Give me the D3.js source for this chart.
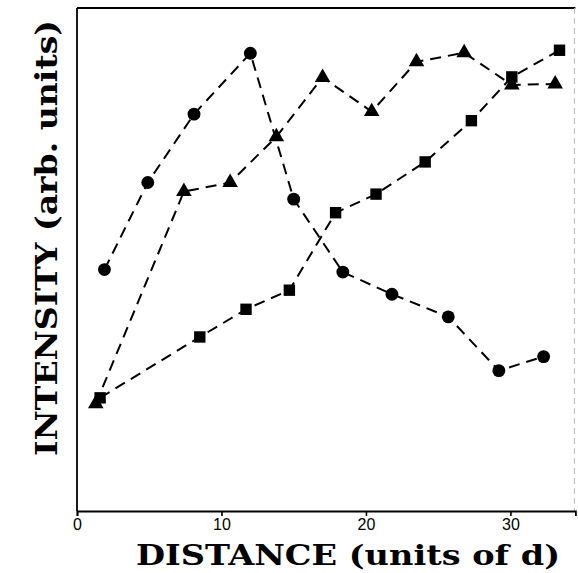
<!DOCTYPE html>
<html>
<head>
<meta charset="utf-8">
<script src="https://cdn.jsdelivr.net/npm/d3@7"></script>
<style>
  body { margin: 0; background: #fff; }
  svg { display: block; }
</style>
</head>
<body>
<div id="chart"></div>
<script>
'use strict';

// distance (units of d) and intensity (arb. units, 0 = bottom of frame, 100 = top)
const circleX = [1.9, 4.9, 8.1, 12.0, 15.0, 18.4, 21.8, 25.7, 29.2, 32.3];
const circleY = [48.0, 65.3, 78.9, 91.0, 62.0, 47.5, 43.1, 38.6, 27.9, 30.7];

const triangleX = [1.3, 7.4, 10.6, 13.8, 17.0, 20.4, 23.5, 26.8, 30.1, 33.1];
const triangleY = [21.3, 63.5, 65.3, 74.4, 86.2, 79.4, 89.3, 91.1, 84.7, 84.9];

const squareX = [1.6, 8.5, 11.7, 14.7, 17.9, 20.7, 24.1, 27.3, 30.1, 33.4];
const squareY = [22.5, 34.6, 40.1, 43.9, 59.3, 63.0, 69.4, 77.6, 86.3, 91.6];

const xTicks = [0, 10, 20, 30];

const W = 578, H = 573;
const frame = { left: 77, right: 575.4, top: 8, bottom: 511 };

let svg = d3.select("#chart").append("svg")
    .attr("width", W)
    .attr("height", H);

let x = d3.scaleLinear()
    .domain([0, 34.5])
    .range([frame.left, frame.right]);

let y = d3.scaleLinear()
    .domain([0, 100])
    .range([frame.bottom, frame.top]);

// frame
svg.append("line")
    .attr("x1", frame.left).attr("x2", frame.right).attr("y1", frame.top).attr("y2", frame.top)
    .attr("stroke", "#000").attr("stroke-width", 2.2);
svg.append("line")
    .attr("x1", frame.left).attr("x2", frame.left).attr("y1", frame.top).attr("y2", frame.bottom)
    .attr("stroke", "#000").attr("stroke-width", 1.8);
svg.append("line")
    .attr("x1", frame.right - 1).attr("x2", frame.right - 1).attr("y1", frame.top).attr("y2", frame.bottom)
    .attr("stroke", "#bbb").attr("stroke-width", 1).attr("stroke-dasharray", "6,4");

let xAxis = d3.axisBottom(x)
    .tickValues(xTicks)
    .tickSize(5)
    .tickPadding(3)
    .tickFormat(d3.format("d"));

let gx = svg.append("g")
    .attr("transform", "translate(0," + frame.bottom + ")")
    .call(xAxis);
gx.select(".domain")
    .attr("stroke-width", 1.8);
gx.selectAll(".tick line")
    .attr("stroke-width", 1.6);
gx.selectAll(".tick text")
    .style("font-family", "'Liberation Sans', Arial, sans-serif")
    .style("font-size", "16px")
    .attr("fill", "#000");

// axis titles
svg.append("text")
    .attr("x", 348)
    .attr("y", 565)
    .attr("text-anchor", "middle")
    .attr("textLength", 424)
    .attr("lengthAdjust", "spacingAndGlyphs")
    .style("font-family", "'DejaVu Serif', serif")
    .style("font-weight", "bold")
    .style("font-size", "28px")
    .text("DISTANCE (units of d)");

svg.append("text")
    .attr("transform", "translate(57,238) rotate(-90)")
    .attr("text-anchor", "middle")
    .attr("textLength", 436)
    .attr("lengthAdjust", "spacingAndGlyphs")
    .style("font-family", "'DejaVu Serif', serif")
    .style("font-weight", "bold")
    .style("font-size", "29px")
    .text("INTENSITY (arb. units)");

let series = [
    { xs: circleX, ys: circleY, symbol: d3.symbolCircle, size: 130 },
    { xs: triangleX, ys: triangleY, symbol: d3.symbolTriangle, size: 105 },
    { xs: squareX, ys: squareY, symbol: d3.symbolSquare, size: 130 }
];

let line = d3.line()
    .x(d => x(d[0]))
    .y(d => y(d[1]));

series.forEach(s => {
    let pts = s.xs.map((v, i) => [v, s.ys[i]]);

    svg.append("path")
        .datum(pts)
        .attr("fill", "none")
        .attr("stroke", "#000")
        .attr("stroke-width", 2)
        .attr("stroke-dasharray", "11,7")
        .attr("d", line);

    svg.selectAll(null)
        .data(pts)
        .enter().append("path")
        .attr("transform", d => "translate(" + x(d[0]) + "," + y(d[1]) + ")")
        .attr("d", d3.symbol().type(s.symbol).size(s.size))
        .attr("fill", "#000");
});
</script>
</body>
</html>
